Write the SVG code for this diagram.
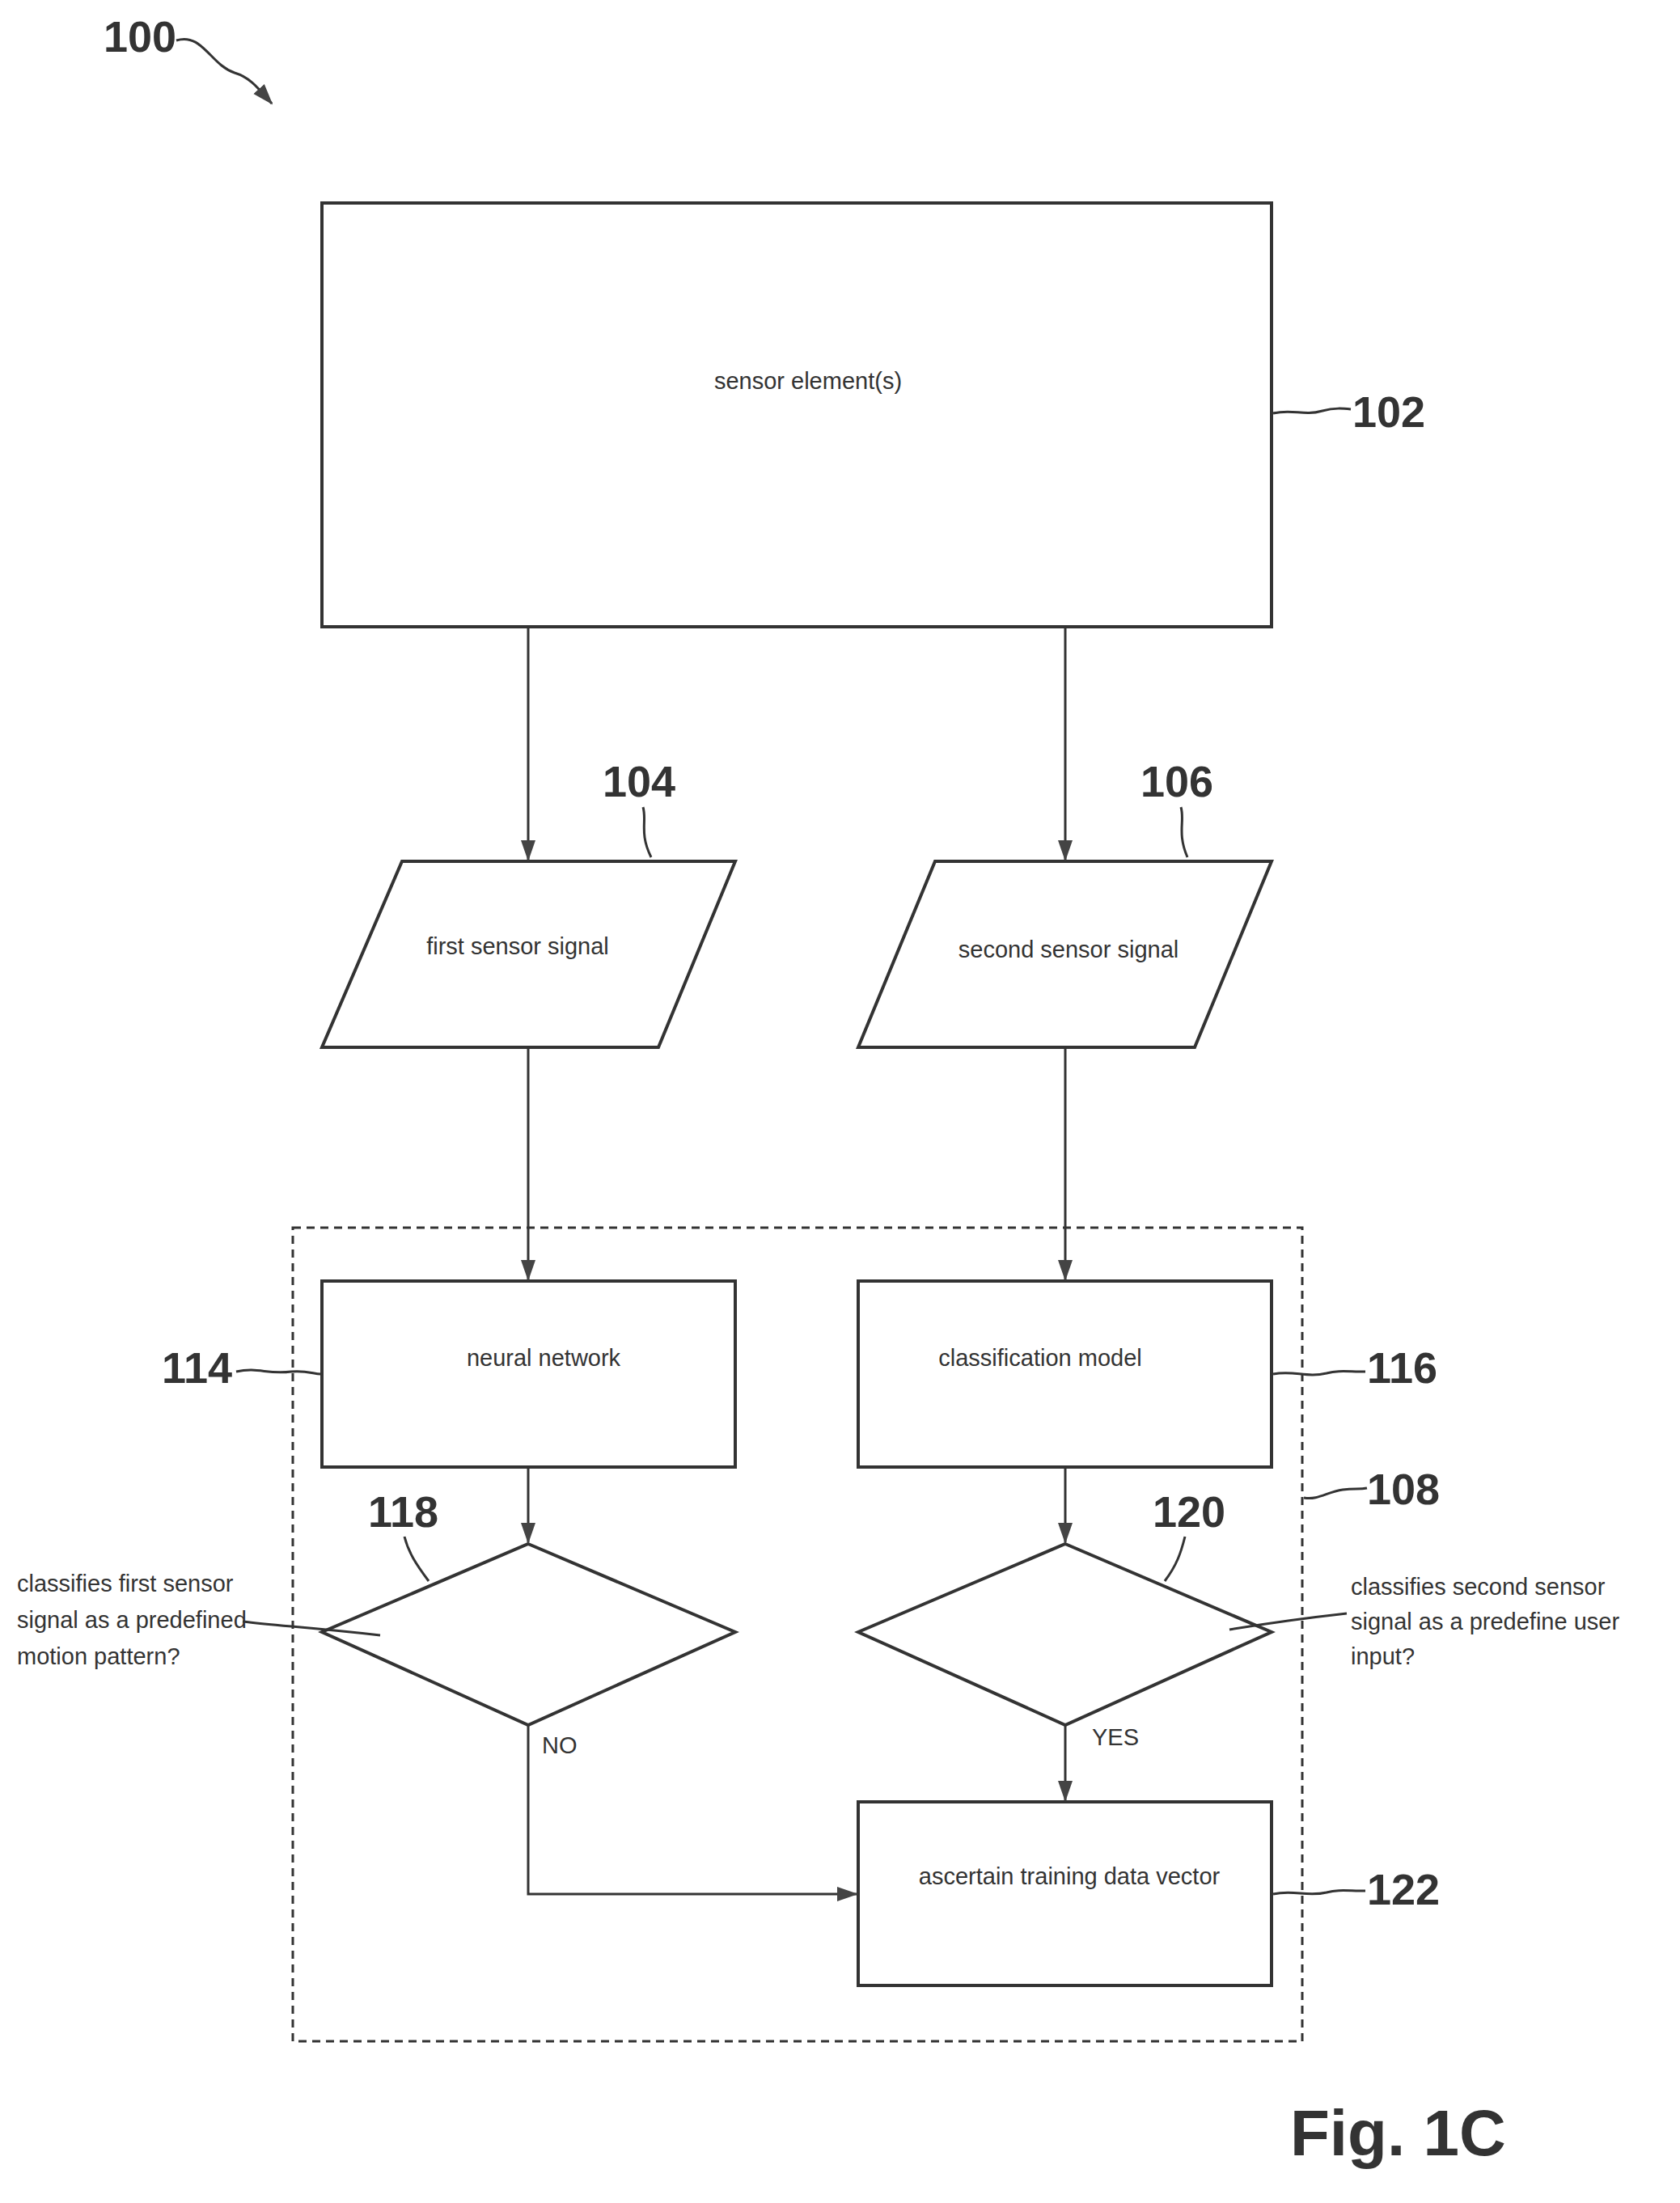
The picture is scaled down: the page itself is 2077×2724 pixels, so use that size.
<svg xmlns="http://www.w3.org/2000/svg" width="2077" height="2724" viewBox="0 0 2077 2724">
<style>
.s{fill:none;stroke:#333;stroke-width:4}
.c{stroke:#333;stroke-width:3;fill:none}
.t{font-family:"Liberation Sans",Arial,sans-serif;font-size:29px;fill:#333}
.m{text-anchor:middle}
.l{font-family:"Liberation Sans Narrow","Liberation Sans",Arial,sans-serif;font-size:54px;font-weight:bold;fill:#333}
</style>
<defs>
<marker id="a" markerWidth="26" markerHeight="26" refX="24" refY="13" orient="auto" markerUnits="userSpaceOnUse" viewBox="0 0 26 26">
<path d="M0,4 L26,13 L0,22 Z" fill="#444"/>
</marker>
</defs>
<rect width="2077" height="2724" fill="#fff"/>
<g id="label100">
<text class="l" x="128" y="64">100</text>
<path class="c" d="M218,50 C250,40 260,80 290,90 C310,96 320,110 336,128" marker-end="url(#a)"/>
</g>
<g id="n108">
<rect x="362" y="1518" width="1248" height="1006" fill="none" stroke="#333" stroke-width="3" stroke-dasharray="10,7"/>
<path class="c" d="M1612,1852 C1630,1855 1640,1845 1660,1842 C1675,1840 1680,1842 1690,1840"/>
<text class="l" x="1690" y="1860">108</text>
</g>
<g id="n102">
<rect class="s" x="398" y="251" width="1174" height="524"/>
<text class="t m" x="999" y="481">sensor element(s)</text>
<path class="c" d="M1574,511 C1600,505 1610,515 1635,508 C1650,504 1660,505 1670,506"/>
<text class="l" x="1672" y="528">102</text>
</g>
<g id="n104">
<polygon class="s" points="497,1065 909,1065 814,1295 398,1295"/>
<text class="t m" x="640" y="1180">first sensor signal</text>
<text class="l" x="745" y="985">104</text>
<path class="c" d="M795,998 C800,1015 790,1030 805,1060"/>
</g>
<g id="n106">
<polygon class="s" points="1156,1065 1572,1065 1477,1295 1061,1295"/>
<text class="t m" x="1321" y="1184">second sensor signal</text>
<text class="l" x="1410" y="985">106</text>
<path class="c" d="M1460,998 C1465,1015 1455,1030 1468,1060"/>
</g>
<g id="n114">
<rect class="s" x="398" y="1584" width="511" height="230"/>
<text class="t m" x="672" y="1689">neural network</text>
<text class="l" x="200" y="1710">114</text>
<path class="c" d="M292,1696 C320,1690 330,1700 360,1696 C380,1694 390,1700 398,1699"/>
</g>
<g id="n116">
<rect class="s" x="1061" y="1584" width="511" height="230"/>
<text class="t m" x="1286" y="1689">classification model</text>
<text class="l" x="1690" y="1710">116</text>
<path class="c" d="M1574,1699 C1600,1694 1615,1704 1640,1698 C1655,1694 1665,1696 1688,1696"/>
</g>
<g id="n118">
<polygon class="s" points="653,1909 909,2018 653,2133 398,2018"/>
<text class="l" x="455" y="1888">118</text>
<path class="c" d="M500,1900 C505,1920 515,1935 530,1955"/>
<text class="t" x="21" y="1968">classifies first sensor</text>
<text class="t" x="21" y="2013">signal as a predefined</text>
<text class="t" x="21" y="2058">motion pattern?</text>
<path class="c" d="M300,2005 C340,2010 380,2012 470,2022"/>
</g>
<g id="n120">
<polygon class="s" points="1317,1909 1572,2018 1317,2133 1061,2018"/>
<text class="l" x="1425" y="1888">120</text>
<path class="c" d="M1465,1900 C1460,1920 1455,1935 1440,1955"/>
<text class="t" x="1670" y="1972">classifies second sensor</text>
<text class="t" x="1670" y="2015">signal as a predefine user</text>
<text class="t" x="1670" y="2058">input?</text>
<path class="c" d="M1665,1995 C1620,2000 1580,2005 1520,2015"/>
</g>
<g id="n122">
<rect class="s" x="1061" y="2228" width="511" height="227"/>
<text class="t m" x="1322" y="2330">ascertain training data vector</text>
<text class="l" x="1690" y="2355">122</text>
<path class="c" d="M1574,2342 C1600,2336 1615,2346 1640,2340 C1655,2336 1665,2338 1688,2338"/>
</g>
<g id="connectors">
<line class="c" x1="653" y1="775" x2="653" y2="1063" marker-end="url(#a)"/>
<line class="c" x1="1317" y1="775" x2="1317" y2="1063" marker-end="url(#a)"/>
<line class="c" x1="653" y1="1295" x2="653" y2="1582" marker-end="url(#a)"/>
<line class="c" x1="1317" y1="1295" x2="1317" y2="1582" marker-end="url(#a)"/>
<line class="c" x1="653" y1="1814" x2="653" y2="1907" marker-end="url(#a)"/>
<line class="c" x1="1317" y1="1814" x2="1317" y2="1907" marker-end="url(#a)"/>
<line class="c" x1="1317" y1="2133" x2="1317" y2="2226" marker-end="url(#a)"/>
<polyline class="c" points="653,2133 653,2342 1059,2342" marker-end="url(#a)"/>
<text class="t" x="670" y="2168">NO</text>
<text class="t" x="1350" y="2158">YES</text>
</g>
<text x="1595" y="2665" font-family="Liberation Sans,Arial,sans-serif" font-weight="bold" font-size="80" fill="#333">Fig. 1C</text>
</svg>
